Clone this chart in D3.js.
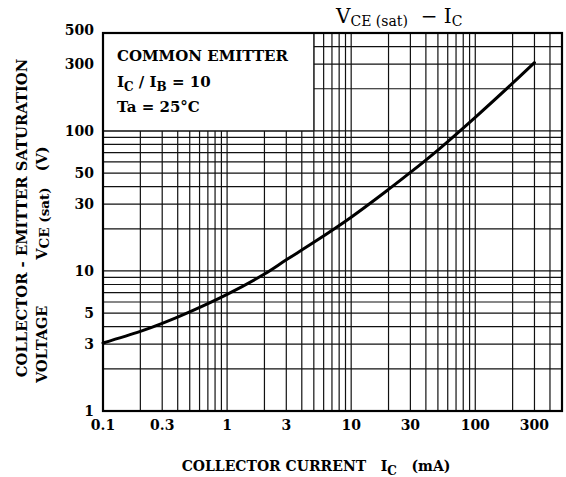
<!DOCTYPE html>
<html>
<head>
<meta charset="utf-8">
<script src="https://cdn.jsdelivr.net/npm/d3@7"></script>
<style>
  html, body { margin: 0; padding: 0; background: #fff; }
  svg { display: block; }
  text { font-family: "DejaVu Serif", "Liberation Serif", serif; fill: #000; white-space: pre; }
</style>
</head>
<body>
<svg id="chart" width="566" height="477"></svg>
<script>
// ---- data ----
const icValues = [0.1, 0.2, 0.3, 0.5, 1, 2, 3, 5, 10, 20, 30, 50, 100, 200, 300];
const vceValues = [3.06, 3.7, 4.22, 5.1, 6.8, 9.5, 12.0, 16.0, 24.2, 38.2, 50.5, 73, 125, 219, 307];
const xTickLabels = [0.1, 0.3, 1, 3, 10, 30, 100, 300];
const yTickLabels = [1, 3, 5, 10, 30, 50, 100, 300, 500];
const xDomain = [0.1, 500];
const yDomain = [1, 500];

const svg = d3.select("#chart");
const pL = 103, pR = 562, pT = 33, pB = 411;

const x = d3.scaleLog().domain(xDomain).range([pL, pR]);
const y = d3.scaleLog().domain(yDomain).range([pB, pT]);

// grid
const xGrid = x.ticks().filter(v => v > xDomain[0] && v < xDomain[1]);
const yGrid = y.ticks().filter(v => v > yDomain[0] && v < yDomain[1]);

const g = svg.append("g");
g.selectAll("line.vx").data(xGrid).join("line")
  .attr("x1", d => x(d)).attr("x2", d => x(d))
  .attr("y1", pT).attr("y2", pB)
  .attr("stroke", "#111").attr("stroke-width", 1.2);
g.selectAll("line.hy").data(yGrid).join("line")
  .attr("x1", pL).attr("x2", pR)
  .attr("y1", d => y(d)).attr("y2", d => y(d))
  .attr("stroke", "#111").attr("stroke-width", 1.2);

// condition box (white, covers grid)
const boxX1 = 5, boxY1 = 100;
svg.append("rect")
  .attr("x", pL).attr("y", pT)
  .attr("width", x(boxX1) - pL).attr("height", y(boxY1) - pT)
  .attr("fill", "#fff");
svg.append("line").attr("x1", x(boxX1)).attr("x2", x(boxX1)).attr("y1", pT).attr("y2", y(boxY1))
  .attr("stroke", "#111").attr("stroke-width", 1.2);
svg.append("line").attr("x1", pL).attr("x2", x(boxX1)).attr("y1", y(boxY1)).attr("y2", y(boxY1))
  .attr("stroke", "#111").attr("stroke-width", 1.2);

// frame
svg.append("rect").attr("x", pL).attr("y", pT)
  .attr("width", pR - pL).attr("height", pB - pT)
  .attr("fill", "none").attr("stroke", "#000").attr("stroke-width", 2.2);

// curve
const pts = icValues.map((v, i) => [v, vceValues[i]]);
const line = d3.line().x(d => x(d[0])).y(d => y(d[1])).curve(d3.curveCatmullRom.alpha(0.5));
svg.append("path").datum(pts).attr("d", line)
  .attr("fill", "none").attr("stroke", "#000").attr("stroke-width", 3).attr("stroke-linecap", "round");

// tick labels
svg.selectAll("text.yt").data(yTickLabels).join("text")
  .attr("x", pL - 9).attr("y", d => y(d) + (d === 500 ? 2 : 5))
  .attr("text-anchor", "end").attr("font-size", 14).attr("font-weight", "bold")
  .text(d => d);
svg.selectAll("text.xt").data(xTickLabels).join("text")
  .attr("x", d => x(d)).attr("y", pB + 19)
  .attr("text-anchor", "middle").attr("font-size", 14).attr("font-weight", "bold")
  .text(d => d);

// title
const title = svg.append("text").attr("x", 336).attr("y", 23).attr("font-size", 20);
title.append("tspan").text("V");
title.append("tspan").attr("font-size", 14).attr("dy", 3).text("CE (sat)");
title.append("tspan").attr("dy", -3).text("  − I");
title.append("tspan").attr("font-size", 14).attr("dy", 3).text("C");

// condition text
const bx = 117;
svg.append("text").attr("x", bx).attr("y", 61).attr("font-size", 15).attr("font-weight", "bold").text("COMMON EMITTER");
const t2 = svg.append("text").attr("x", bx).attr("y", 87).attr("font-size", 15).attr("font-weight", "bold");
t2.append("tspan").text("I");
t2.append("tspan").attr("font-size", 12).attr("dy", 4).text("C");
t2.append("tspan").attr("dy", -4).text(" / I");
t2.append("tspan").attr("font-size", 12).attr("dy", 4).text("B");
t2.append("tspan").attr("dy", -4).text(" = 10");
svg.append("text").attr("x", bx).attr("y", 112).attr("font-size", 15).attr("font-weight", "bold").text("Ta = 25°C");

// x-axis title
const xt = svg.append("text").attr("x", 316).attr("y", 471).attr("text-anchor", "middle")
  .attr("font-size", 14).attr("font-weight", "bold");
xt.append("tspan").text("COLLECTOR CURRENT   I");
xt.append("tspan").attr("font-size", 12).attr("dy", 4).text("C");
xt.append("tspan").attr("dy", -4).text("   (mA)");

// y-axis title (two rotated lines)
svg.append("text").attr("transform", "translate(27,218) rotate(-90)")
  .attr("text-anchor", "middle").attr("font-size", 14.8).attr("font-weight", "bold")
  .text("COLLECTOR - EMITTER SATURATION");
const yl2 = svg.append("text").attr("transform", "translate(47,383) rotate(-90)")
  .attr("text-anchor", "start").attr("font-size", 14.5).attr("font-weight", "bold");
yl2.append("tspan").text("VOLTAGE");
yl2.append("tspan").attr("dx", 46).text("V");
yl2.append("tspan").attr("font-size", 13.5).attr("dy", 2).text("CE (sat)");
yl2.append("tspan").attr("dy", -2).attr("dx", 16).text("(V)");
</script>
</body>
</html>
